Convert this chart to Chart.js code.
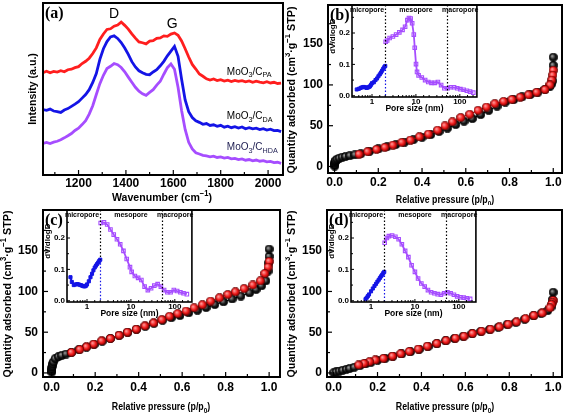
<!DOCTYPE html>
<html lang="en">
<head>
<meta charset="utf-8">
<title>MoO3/C – Raman and N2 sorption</title>
<script src="https://cdn.jsdelivr.net/npm/chart.js@4.4.1/dist/chart.umd.min.js"></script>
<style>
  html, body { margin: 0; padding: 0; background: #fff; }
  body { position: relative; width: 567px; height: 417px; overflow: hidden; }
  canvas { position: absolute; }
</style>
</head>
<body>
<script>
/**
 * =====================================================
 * DATA
 * =====================================================
 */

// (a) Raman spectra
const ramanWavenumber = [
  1050, 1065, 1080, 1095, 1110, 1125, 1140, 1155, 1170, 1185,
  1200, 1215, 1230, 1245, 1260, 1275, 1290, 1305, 1320, 1335,
  1350, 1365, 1380, 1395, 1410, 1425, 1440, 1455, 1470, 1485,
  1500, 1515, 1530, 1545, 1560, 1575, 1590, 1605, 1620, 1635,
  1650, 1665, 1680, 1695, 1710, 1725, 1740, 1755, 1770, 1785,
  1800, 1815, 1830, 1845, 1860, 1875, 1890, 1905, 1920, 1935,
  1950, 1965, 1980, 1995, 2010, 2025, 2040, 2055
];
const ramanPA = [
  59.5, 60.3, 59.4, 60.2, 59.8, 60.6, 60.0, 61.2, 61.5, 62.4,
  63.0, 64.8, 66.1, 67.9, 70.6, 73.9, 78.8, 82.0, 84.6, 85.0,
  86.5, 87.2, 88.9, 87.0, 84.8, 82.1, 79.6, 77.4, 76.9, 76.2,
  77.8, 78.1, 79.4, 79.7, 80.9, 80.6, 81.9, 82.6, 81.2, 77.9,
  73.4, 68.6, 64.3, 61.6, 58.7, 57.4, 55.9, 55.2, 55.8, 54.9,
  55.4, 54.6, 55.1, 54.3, 55.0, 54.5, 54.9, 54.2, 54.7, 53.9,
  54.5, 54.0, 53.6, 54.2, 53.5, 53.9, 53.2, 53.4
];
const ramanDA = [
  38.0, 37.6, 38.3, 37.2, 36.9, 36.4, 37.8, 38.6, 39.9, 41.2,
  42.6, 44.7, 46.8, 49.6, 53.8, 59.0, 67.2, 73.4, 77.6, 80.3,
  80.9, 79.4, 77.0, 73.8, 70.1, 65.9, 62.8, 60.6, 59.4, 58.5,
  58.3, 59.9, 61.2, 63.5, 66.1, 69.3, 72.0, 74.8, 69.0, 55.7,
  43.6, 36.8, 33.4, 31.5, 30.6, 29.5, 29.9, 28.8, 29.2, 28.3,
  28.9, 27.8, 28.4, 27.5, 28.1, 27.3, 27.9, 26.9, 27.5, 26.8,
  27.2, 26.4, 26.9, 26.1, 26.6, 25.8, 25.9, 25.2
];
const ramanHDA = [
  18.4, 18.9, 18.3, 19.1, 19.6, 20.5, 21.6, 22.8, 24.1, 25.9,
  27.2, 29.3, 31.6, 35.4, 40.3, 46.8, 53.1, 58.0, 61.9, 63.2,
  64.8, 64.1, 62.5, 60.0, 56.9, 53.9, 51.0, 48.7, 47.2, 46.3,
  48.0, 49.6, 52.3, 54.5, 58.6, 62.4, 64.6, 61.5, 51.0, 37.5,
  26.5, 19.0, 15.1, 12.9, 12.2, 11.4, 11.1, 10.6, 11.0, 10.2,
  10.5, 9.8, 10.2, 9.4, 9.7, 9.0, 9.4, 8.6, 9.0, 8.2,
  8.7, 8.0, 8.3, 7.6, 7.9, 7.2, 7.4, 6.8
];
const ramanTickLabels = [1200, 1400, 1600, 1800, 2000];

// (b) MoO3/C_PA isotherm
const isoB_adsP = [0.0003, 0.0008, 0.0015, 0.003, 0.006, 0.012, 0.022, 0.035, 0.05, 0.07,
  0.093, 0.12, 0.16, 0.2, 0.24, 0.28, 0.32, 0.36, 0.4, 0.44,
  0.478, 0.516, 0.554, 0.592, 0.63, 0.668, 0.705, 0.743, 0.781, 0.819,
  0.857, 0.895, 0.93, 0.962, 0.982, 0.992, 0.997, 1.0, 1.0];
const isoB_adsQ = [0.5, 2.5, 4.5, 6, 7.5, 9, 10.3, 11.5, 12.2, 13.2,
  14.3, 15.6, 18.6, 21.5, 24.3, 27, 29.8, 32.8, 35.8, 39.2,
  43, 47, 51.4, 55.5, 58.7, 63.6, 68.8, 74, 79, 82,
  85.3, 88.2, 91.2, 94.5, 97.5, 101, 105, 124, 134];
const isoB_desP = [1.0, 0.998, 0.993, 0.985, 0.962, 0.924, 0.887, 0.849, 0.811, 0.773,
  0.733, 0.695, 0.656, 0.618, 0.577, 0.539, 0.505, 0.471, 0.429, 0.388,
  0.347, 0.308, 0.267, 0.23, 0.192, 0.151, 0.112];
const isoB_desQ = [118, 112, 106, 100, 94.3, 91, 87.9, 85, 82.2, 79.8,
  77, 72.9, 68.8, 64, 60, 54.7, 49.8, 44.5, 39.7, 36.4,
  32.4, 29.6, 26.3, 23.5, 21, 18.2, 15];

// (c) MoO3/C_DA isotherm
const isoC_adsP = [0.0002, 0.0005, 0.001, 0.002, 0.004, 0.008, 0.016, 0.031, 0.046, 0.066,
  0.09, 0.125, 0.16, 0.195, 0.232, 0.27, 0.31, 0.35, 0.39, 0.43,
  0.47, 0.51, 0.55, 0.59, 0.63, 0.67, 0.71, 0.75, 0.79, 0.83,
  0.87, 0.91, 0.94, 0.965, 0.985, 0.995, 0.999, 1.0, 1.0];
const isoC_adsQ = [1, 3, 6, 8.5, 11, 13.5, 17.5, 20, 21.5, 23.2,
  25, 28.5, 31.8, 35, 39, 42.3, 46, 49.8, 53.5, 57.3,
  61, 64.8, 67.8, 70.5, 73.8, 77, 80.3, 84, 87.3, 90.8,
  94.3, 98.3, 102.5, 107, 113, 125, 135, 143, 152];
const isoC_desP = [1.0, 0.995, 0.98, 0.96, 0.925, 0.885, 0.845, 0.81, 0.772, 0.731,
  0.693, 0.655, 0.618, 0.58, 0.542, 0.507, 0.469, 0.429, 0.389, 0.348,
  0.31, 0.27, 0.23, 0.193, 0.16, 0.129, 0.091];
const isoC_desQ = [137, 130, 122, 113, 108, 103.5, 99.5, 96.3, 92.3, 88.2,
  83.7, 80, 76, 72.8, 69.5, 65.4, 61.4, 57.7, 53.7, 50,
  46.3, 42.3, 39.4, 35.4, 32, 28.9, 25.2];

// (d) MoO3/C_HDA isotherm
const isoD_adsP = [0.0005, 0.012, 0.026, 0.041, 0.058, 0.073, 0.094, 0.12, 0.145, 0.17,
  0.2, 0.235, 0.27, 0.31, 0.35, 0.39, 0.43, 0.47, 0.51, 0.55,
  0.59, 0.63, 0.67, 0.71, 0.75, 0.79, 0.83, 0.87, 0.91, 0.945,
  0.975, 0.99, 0.997, 1.0];
const isoD_adsQ = [0.3, 1.2, 2.3, 3.3, 4.5, 5.4, 6.9, 9, 11, 13,
  15.5, 18, 20.5, 23.3, 26, 29, 32.3, 35.8, 39.3, 42.3,
  44.8, 48, 50.8, 53.3, 56, 59.3, 62, 66, 70, 72.8,
  76.5, 81, 90, 99];
const isoD_desP = [1.0, 0.996, 0.992, 0.985, 0.95, 0.912, 0.874, 0.833, 0.795, 0.755,
  0.715, 0.674, 0.633, 0.594, 0.555, 0.512, 0.47, 0.427, 0.386, 0.345,
  0.306, 0.268, 0.227, 0.19, 0.164, 0.139, 0.114];
const isoD_desQ = [89, 86, 84, 80, 73.6, 70.7, 66.7, 62.6, 59.8, 56.5,
  53.7, 51.2, 48.4, 45.1, 42.7, 39.8, 36.2, 32.9, 29.3, 26.4,
  23.6, 20.7, 17.9, 15.9, 13.8, 11.8, 9.8];

const isoXLabels = [0, 0.2, 0.4, 0.6, 0.8, 1.0];
const isoYLabels = [0, 50, 100, 150];

// insets: pore size distributions
const poreB_microD = [0.45, 0.5, 0.55, 0.6, 0.65, 0.7, 0.75, 0.8, 0.85, 0.9, 0.95, 1.0, 1.1, 1.2, 1.3, 1.4, 1.5, 1.6, 1.7, 1.8, 1.9, 2.0];
const poreB_microV = [0.020, 0.022, 0.025, 0.027, 0.028, 0.027, 0.025, 0.026, 0.028, 0.030, 0.035, 0.040, 0.043, 0.050, 0.055, 0.062, 0.068, 0.074, 0.080, 0.086, 0.091, 0.095];
const poreB_mesoD = [2.05, 2.21, 2.52, 2.99, 3.54, 4.19, 4.96, 5.67, 6.38, 6.95,
  7.57, 8.21, 8.95, 9.41, 10.05, 10.6, 11.5, 13.6, 16.2, 19.1,
  22.6, 26.8, 31.7, 37.5, 44.5, 52.6, 62.1, 73.8, 87.3, 103,
  122, 145, 171, 203];
const poreB_mesoV = [0.172, 0.176, 0.184, 0.189, 0.195, 0.202, 0.210, 0.220, 0.241, 0.248,
  0.246, 0.231, 0.195, 0.153, 0.101, 0.076, 0.065, 0.058, 0.050, 0.044,
  0.041, 0.041, 0.044, 0.034, 0.024, 0.024, 0.027, 0.027, 0.024, 0.021,
  0.019, 0.016, 0.013, 0.010];

const poreC_microD = [0.42, 0.45, 0.5, 0.55, 0.6, 0.65, 0.7, 0.75, 0.8, 0.85, 0.9, 0.95, 1.0, 1.1, 1.2, 1.3, 1.4, 1.5, 1.6, 1.7, 1.8, 1.9, 2.0];
const poreC_microV = [0.075, 0.060, 0.050, 0.052, 0.053, 0.052, 0.050, 0.049, 0.047, 0.046, 0.046, 0.048, 0.052, 0.062, 0.075, 0.086, 0.097, 0.106, 0.112, 0.117, 0.122, 0.127, 0.131];
const poreC_mesoD = [2.05, 2.43, 2.88, 3.42, 4.06, 4.81, 5.70, 6.76, 8.02, 9.52,
  10.4, 12.3, 14.6, 17.3, 20.5, 24.3, 28.8, 34.1, 40.6, 48.1,
  57.0, 67.8, 80.2, 95, 113, 134, 158, 188];
const poreC_mesoV = [0.248, 0.250, 0.243, 0.227, 0.211, 0.196, 0.180, 0.159, 0.133, 0.107,
  0.092, 0.079, 0.073, 0.066, 0.045, 0.034, 0.040, 0.048, 0.053, 0.045,
  0.034, 0.027, 0.027, 0.034, 0.031, 0.027, 0.024, 0.021];

const poreD_microD = [0.75, 0.8, 0.85, 0.9, 1.0, 1.1, 1.2, 1.3, 1.4, 1.5, 1.6, 1.7, 1.8, 1.9, 2.0];
const poreD_microV = [0.005, 0.010, 0.015, 0.020, 0.030, 0.039, 0.047, 0.054, 0.061, 0.067, 0.073, 0.078, 0.083, 0.088, 0.092];
const poreD_mesoD = [2.05, 2.3, 2.55, 3.02, 3.59, 4.26, 5.04, 5.99, 7.10, 8.40,
  10.0, 11.8, 14.0, 16.7, 19.8, 23.4, 27.8, 33.0, 39.0, 46.4,
  55.0, 65.1, 77.4, 91.6, 109, 129, 153, 181];
const poreD_mesoV = [0.185, 0.200, 0.206, 0.208, 0.204, 0.196, 0.180, 0.159, 0.139, 0.113,
  0.092, 0.071, 0.055, 0.045, 0.034, 0.027, 0.024, 0.021, 0.019, 0.024,
  0.027, 0.024, 0.019, 0.014, 0.011, 0.010, 0.008, 0.006];

const poreBounds = [2, 50];
const poreZones = ['micropore', 'mesopore', 'macropore'];
const poreZoneAt = [0.77, 10, 102];
const poreXLabels = [1, 10, 100];
const poreYLabels = [0, 0.1, 0.2];

/**
 * =====================================================
 * SHARED SETTINGS
 * =====================================================
 */
const SANS = "'Liberation Sans', Arial, sans-serif";
const SERIF = "'Liberation Serif', 'Times New Roman', serif";

const TICK_FONT = { family: SANS, size: 12, weight: 'bold' };
const INSET_FONT = { family: SANS, size: 8, weight: 'bold' };

const RED = '#ff1e1e';
const BLUE = '#1414e6';
const PURPLE = '#a64dff';

// axis titles (drawn as rich text so super/subscripts match the figure)
const T_WAVENUMBER = [['Wavenumber (cm', ''], ['−1', 'sup'], [')', '']];
const T_INTENSITY = [['Intensity (a.u.)', '']];
const T_PRESSURE = [['Relative pressure (p/p', ''], ['0', 'sub'], [')', '']];
const T_QUANTITY = [['Quantity adsorbed (cm', ''], ['3', 'sup'], ['·g', ''], ['−1', 'sup'], [' STP)', '']];

Chart.defaults.font.family = SANS;
Chart.defaults.color = '#000';
Chart.defaults.animation = false;
Chart.defaults.events = [];
Chart.defaults.plugins.legend.display = false;
Chart.defaults.plugins.tooltip.enabled = false;

function toXY(xs, ys) {
  return xs.map((x, i) => ({ x, y: ys[i] }));
}

function makeCanvas(id, box) {
  const [left, top, w, h] = box;
  const c = document.createElement('canvas');
  c.id = id;
  c.width = w;
  c.height = h;
  c.style.left = left + 'px';
  c.style.top = top + 'px';
  c.style.width = w + 'px';
  c.style.height = h + 'px';
  document.body.appendChild(c);
  return c.getContext('2d');
}

// fix the size of an axis box so the plot area lands where the figure has it
function fixSize(prop, val) {
  return scale => {
    scale[prop] = val;
    scale.paddingTop = 0;
    scale.paddingBottom = 0;
    scale.paddingLeft = 0;
    scale.paddingRight = 0;
  };
}

function near(list, v) {
  return list.some(l => Math.abs(l - v) < 1e-6 * Math.max(1, Math.abs(l)));
}

// shaded ball used as the isotherm marker
function ballSprite(base, light, edge) {
  const c = document.createElement('canvas');
  c.width = c.height = 9;
  const g = c.getContext('2d');
  const grd = g.createRadialGradient(3.2, 3.2, 0.4, 4.5, 4.5, 4.6);
  grd.addColorStop(0, light);
  grd.addColorStop(0.55, base);
  grd.addColorStop(1, edge);
  g.fillStyle = grd;
  g.beginPath();
  g.arc(4.5, 4.5, 4.1, 0, Math.PI * 2);
  g.fill();
  g.strokeStyle = edge;
  g.lineWidth = 0.7;
  g.stroke();
  return c;
}
const redBall = ballSprite('#f01818', '#ff9c9c', '#6a0000');
const blackBall = ballSprite('#161616', '#9a9a9a', '#000');

/**
 * =====================================================
 * TEXT WITH SUB / SUPERSCRIPTS
 * =====================================================
 */
function drawRich(ctx, parts, size, family, weight, color, align) {
  const fontFor = m => `${weight} ${m ? size * 0.72 : size}px ${family}`;
  let total = 0;
  parts.forEach(([t, m]) => { ctx.font = fontFor(m); total += ctx.measureText(t).width; });
  let x = align === 'center' ? -total / 2 : align === 'right' ? -total : 0;
  ctx.fillStyle = color;
  ctx.textBaseline = 'middle';
  ctx.textAlign = 'left';
  parts.forEach(([t, m]) => {
    ctx.font = fontFor(m);
    const dy = m === 'sub' ? size * 0.32 : m === 'sup' ? -size * 0.35 : 0;
    ctx.fillText(t, x, dy);
    x += ctx.measureText(t).width;
  });
}

function drawNote(chart, n) {
  const { ctx, chartArea: a, scales } = chart;
  const x = n.x !== undefined ? scales.x.getPixelForValue(n.x) : a.left + n.dx;
  const y = n.y !== undefined ? scales.y.getPixelForValue(n.y) : a.top + n.dy;
  ctx.save();
  ctx.translate(x, y);
  if (n.rotate) ctx.rotate(n.rotate);
  if (n.sx) ctx.scale(n.sx, 1);
  drawRich(ctx, n.parts || [[n.text, '']], n.size, n.family || SANS,
    n.weight || 'normal', n.color || '#000', n.align || 'left');
  ctx.restore();
}

/**
 * =====================================================
 * PLUGIN: frame, inward ticks, guide lines, labels
 * =====================================================
 */
const decorPlugin = {
  id: 'decor',
  afterDatasetsDraw(chart, args, opts) {
    const { ctx, chartArea: a, scales } = chart;
    ctx.save();

    // dotted pore-range limits
    (opts.guides || []).forEach(g => {
      const x = Math.round(scales.x.getPixelForValue(g.at)) + 0.5;
      const ySplit = g.lowTo !== undefined ? scales.y.getPixelForValue(g.lowTo) : a.bottom;
      ctx.lineWidth = 1.2;
      ctx.setLineDash([1.5, 2]);
      ctx.strokeStyle = '#000';
      ctx.beginPath(); ctx.moveTo(x, a.top); ctx.lineTo(x, ySplit); ctx.stroke();
      if (g.lowTo !== undefined) {
        ctx.strokeStyle = g.lowColor;
        ctx.beginPath(); ctx.moveTo(x, ySplit); ctx.lineTo(x, a.bottom); ctx.stroke();
      }
    });
    ctx.setLineDash([]);

    // ticks pointing into the plot
    ctx.strokeStyle = '#000';
    ctx.lineWidth = opts.tickWidth || 1.2;
    (opts.tickAxes || ['x', 'y']).forEach(id => {
      const s = scales[id];
      s.ticks.forEach(t => {
        const p = s.getPixelForValue(t.value);
        const lo = id === 'x' ? a.left : a.top;
        const hi = id === 'x' ? a.right : a.bottom;
        if (p <= lo + 1 || p >= hi - 1) return;
        const len = t.label ? opts.tickLen[0] : opts.tickLen[1];
        ctx.beginPath();
        if (id === 'x') { ctx.moveTo(p, a.bottom); ctx.lineTo(p, a.bottom - len); }
        else { ctx.moveTo(a.left, p); ctx.lineTo(a.left + len, p); }
        ctx.stroke();
      });
    });

    // box
    ctx.lineWidth = opts.frame;
    ctx.strokeRect(a.left, a.top, a.right - a.left, a.bottom - a.top);

    (opts.notes || []).forEach(n => drawNote(chart, n));
    ctx.restore();
  }
};
Chart.register(decorPlugin);

/**
 * =====================================================
 * (a) RAMAN
 * =====================================================
 */
const ramanSeries = [
  { y: ramanPA, color: RED },
  { y: ramanDA, color: BLUE },
  { y: ramanHDA, color: PURPLE }
];

new Chart(makeCanvas('raman', [0, 0, 285, 205]), {
  type: 'scatter',
  data: {
    datasets: ramanSeries.map(s => ({
      data: toXY(ramanWavenumber, s.y),
      showLine: true,
      borderColor: s.color,
      borderWidth: 2.8,
      pointRadius: 0
    }))
  },
  options: {
    responsive: false,
    layout: { padding: { top: 3, right: 2, left: 0, bottom: 0 } },
    scales: {
      x: {
        type: 'linear', min: 1050, max: 2063,
        grid: { display: false, drawTicks: false }, border: { display: false },
        ticks: {
          stepSize: 100, includeBounds: false, autoSkip: false, maxRotation: 0, padding: 1,
          font: TICK_FONT,
          callback: v => ramanTickLabels.includes(v) ? String(v) : ''
        },
        afterFit: fixSize('height', 30)
      },
      y: {
        min: 0, max: 100,
        grid: { display: false, drawTicks: false }, border: { display: false },
        ticks: { display: false },
        afterFit: fixSize('width', 43)
      }
    },
    plugins: {
      decor: {
        frame: 2, tickLen: [5, 3], tickAxes: ['x'],
        notes: [
          { text: '(a)', dx: 2, dy: 11, size: 16, family: SERIF, weight: 'bold' },
          { text: 'D', x: 1350, y: 93.6, size: 14, align: 'center' },
          { text: 'G', x: 1595, y: 87.8, size: 14, align: 'center' },
          { parts: [['MoO', ''], ['3', 'sub'], ['/C', ''], ['PA', 'sub']], x: 1826, y: 60, size: 10 },
          { parts: [['MoO', ''], ['3', 'sub'], ['/C', ''], ['DA', 'sub']], x: 1826, y: 34, size: 10 },
          { parts: [['MoO', ''], ['3', 'sub'], ['/C', ''], ['HDA', 'sub']], x: 1826, y: 16, size: 10, color: '#1c1c50' },
          { parts: T_WAVENUMBER, dx: 119, dy: 195, size: 11.5, sx: 0.92, weight: 'bold', align: 'center' },
          { parts: T_INTENSITY, dx: -10, dy: 86, size: 11.5, sx: 0.92, weight: 'bold', align: 'center', rotate: -Math.PI / 2 }
        ]
      }
    }
  }
});

/**
 * =====================================================
 * (b)(c)(d) ISOTHERMS
 * =====================================================
 */
function buildIsotherm(cfg) {
  return new Chart(makeCanvas(cfg.id, cfg.box), {
    type: 'scatter',
    data: {
      datasets: [
        {
          data: toXY(cfg.desP, cfg.desQ), showLine: true,
          borderColor: '#e01010', borderWidth: 1,
          pointStyle: redBall, pointRadius: 4
        },
        {
          data: toXY(cfg.adsP, cfg.adsQ), showLine: true,
          borderColor: '#000', borderWidth: 1,
          pointStyle: blackBall, pointRadius: 4
        }
      ]
    },
    options: {
      responsive: false,
      layout: { padding: cfg.pad },
      scales: {
        x: {
          type: 'linear', min: cfg.xr[0], max: cfg.xr[1],
          grid: { display: false, drawTicks: false }, border: { display: false },
          ticks: {
            stepSize: 0.1, includeBounds: false, autoSkip: false, maxRotation: 0, padding: cfg.xTickPad,
            font: TICK_FONT,
            callback: v => near(isoXLabels, v) ? v.toFixed(1) : ''
          },
          afterFit: fixSize('height', cfg.xAxisH)
        },
        y: {
          min: cfg.yr[0], max: cfg.yr[1],
          grid: { display: false, drawTicks: false }, border: { display: false },
          ticks: {
            stepSize: 25, includeBounds: false, autoSkip: false, padding: 5,
            font: TICK_FONT,
            callback: v => isoYLabels.includes(v) ? String(v) : ''
          },
          afterFit: fixSize('width', cfg.yAxisW)
        }
      },
      plugins: {
        decor: {
          frame: 2, tickLen: [5, 3],
          notes: [
            { text: cfg.tag, dx: 2, dy: 11, size: 16, family: SERIF, weight: 'bold' },
            { parts: T_PRESSURE, dx: cfg.xTitle[0], dy: cfg.xTitle[1], size: 11, sx: 0.8, weight: 'bold', align: 'center' },
            { parts: T_QUANTITY, dx: cfg.yTitle[0], dy: cfg.yTitle[1], size: 11.5, sx: 0.93, weight: 'bold', align: 'center', rotate: -Math.PI / 2 }
          ]
        }
      }
    }
  });
}

buildIsotherm({
  id: 'isoB', box: [285, 0, 282, 205], tag: '(b)',
  adsP: isoB_adsP, adsQ: isoB_adsQ, desP: isoB_desP, desQ: isoB_desQ,
  xr: [-0.03, 1.04], yr: [-8, 198],
  pad: { top: 3, right: 4, left: 0, bottom: 0 },
  yAxisW: 43, xAxisH: 32, xTickPad: 2,
  xTitle: [117, 195], yTitle: [-36, 85]
});
buildIsotherm({
  id: 'isoC', box: [0, 205, 285, 212], tag: '(c)',
  adsP: isoC_adsP, adsQ: isoC_adsQ, desP: isoC_desP, desQ: isoC_desQ,
  xr: [-0.04, 1.05], yr: [-5, 200],
  pad: { top: 3, right: 2, left: 0, bottom: 0 },
  yAxisW: 43, xAxisH: 40, xTickPad: 3,
  xTitle: [118, 197], yTitle: [-35, 84]
});
buildIsotherm({
  id: 'isoD', box: [285, 205, 282, 212], tag: '(d)',
  adsP: isoD_adsP, adsQ: isoD_adsQ, desP: isoD_desP, desQ: isoD_desQ,
  xr: [-0.03, 1.04], yr: [-5, 200],
  pad: { top: 3, right: 4, left: 0, bottom: 0 },
  yAxisW: 42, xAxisH: 40, xTickPad: 3,
  xTitle: [118, 197], yTitle: [-35, 84]
});

/**
 * =====================================================
 * INSETS: PORE SIZE DISTRIBUTION
 * =====================================================
 */
function buildInset(cfg) {
  return new Chart(makeCanvas(cfg.id, cfg.box), {
    type: 'scatter',
    data: {
      datasets: [
        {
          data: toXY(cfg.microD, cfg.microV), showLine: true,
          borderColor: BLUE, borderWidth: 2,
          pointStyle: 'rect', pointRadius: 2.2,
          pointBackgroundColor: BLUE, pointBorderColor: BLUE, pointBorderWidth: 1
        },
        {
          data: toXY(cfg.mesoD, cfg.mesoV), showLine: true,
          borderColor: PURPLE, borderWidth: 1.8,
          pointStyle: 'rect', pointRadius: 2.5,
          pointBackgroundColor: 'rgba(255,255,255,0)', pointBorderColor: PURPLE, pointBorderWidth: 1.1
        }
      ]
    },
    options: {
      responsive: false,
      layout: { padding: { top: 3, right: 2, left: 0, bottom: 0 } },
      scales: {
        x: {
          type: 'logarithmic', min: 0.35, max: 245,
          grid: { display: false, drawTicks: false }, border: { display: false },
          ticks: {
            autoSkip: false, maxRotation: 0, padding: 0, font: INSET_FONT,
            callback: v => near(poreXLabels, v) ? String(Math.round(v)) : ''
          },
          title: { display: true, text: 'Pore size (nm)', font: { family: SANS, size: 8.5, weight: 'bold' }, padding: { top: 0, bottom: 0 } },
          afterFit: fixSize('height', 17)
        },
        y: {
          min: -0.004, max: 0.289,
          grid: { display: false, drawTicks: false }, border: { display: false },
          ticks: {
            stepSize: 0.05, includeBounds: false, autoSkip: false, padding: 2, font: INSET_FONT,
            callback: v => near(poreYLabels, v) ? v.toFixed(1) : ''
          },
          afterFit: fixSize('width', 23)
        }
      },
      plugins: {
        decor: {
          frame: 1.6, tickLen: [3, 2], tickWidth: 1,
          guides: [
            { at: poreBounds[0], lowTo: cfg.microV[cfg.microV.length - 1], lowColor: BLUE },
            { at: poreBounds[1] }
          ],
          notes: poreZones.map((z, i) => ({
            text: z, x: poreZoneAt[i], dy: 5, size: 7, weight: 'bold', align: 'center'
          })).concat([
            { text: 'dV/dlogD', dx: -19, dy: 31, rotate: -Math.PI / 2, size: 8, weight: 'bold', align: 'center' }
          ])
        }
      }
    }
  });
}

buildInset({ id: 'poreB', box: [329, 0, 153, 114], microD: poreB_microD, microV: poreB_microV, mesoD: poreB_mesoD, mesoV: poreB_mesoV });
buildInset({ id: 'poreC', box: [44, 205, 153, 114], microD: poreC_microD, microV: poreC_microV, mesoD: poreC_mesoD, mesoV: poreC_mesoV });
buildInset({ id: 'poreD', box: [328, 205, 153, 114], microD: poreD_microD, microV: poreD_microV, mesoD: poreD_mesoD, mesoV: poreD_mesoV });
</script>
</body>
</html>
